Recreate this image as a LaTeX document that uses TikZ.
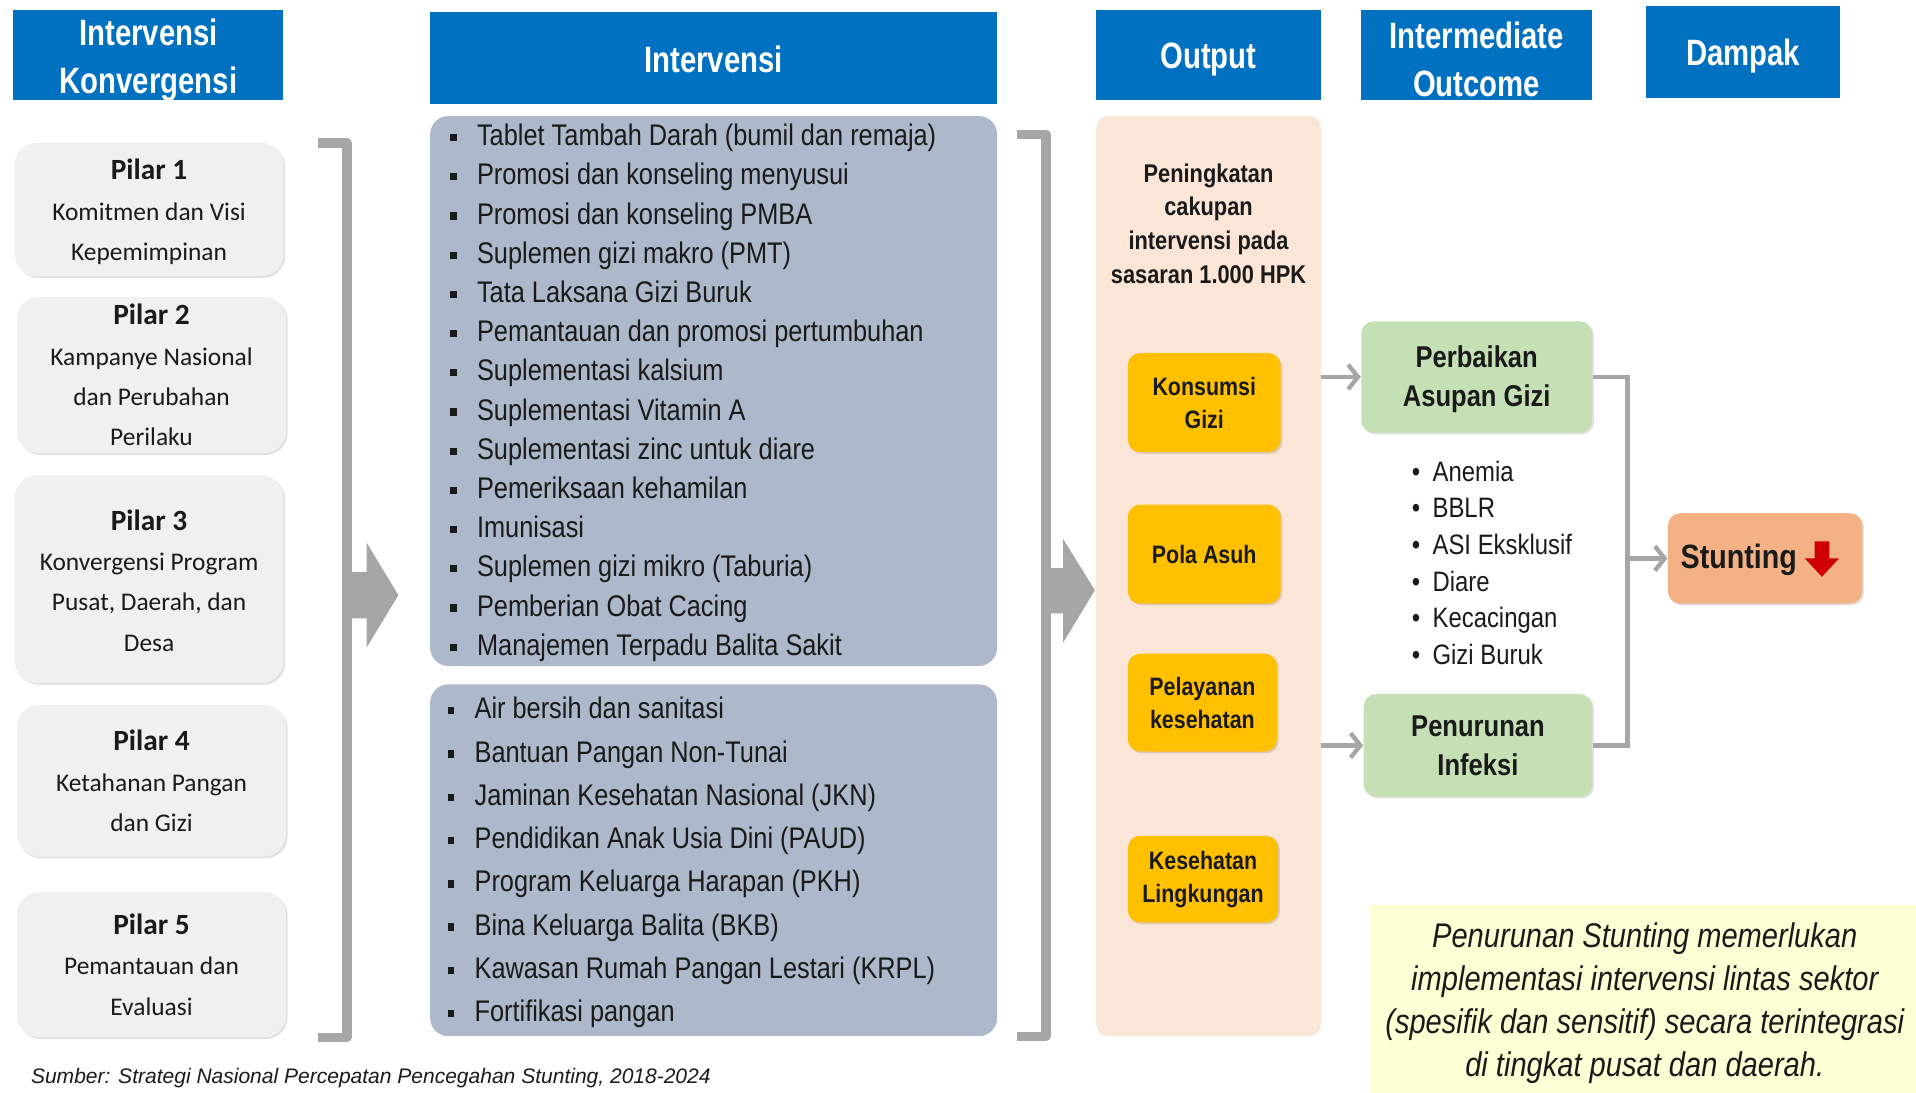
\documentclass[tikz,border=0pt]{standalone}
\usepackage{fontspec}
\setmainfont{Liberation Sans}
\newfontfamily\narfont[FakeStretch=0.85]{Liberation Sans}
\newfontfamily\hdrfont[FakeStretch=0.8]{Liberation Sans}
\newfontfamily\calfont{Carlito}
\usetikzlibrary{fit,arrows.meta,shadows}
\definecolor{hdr}{HTML}{0070C0}
\definecolor{pgray}{HTML}{F0F0F0}
\definecolor{lblue}{HTML}{ADB9CA}
\definecolor{peach}{HTML}{FBE5D6}
\definecolor{yel}{HTML}{FFC000}
\definecolor{grn}{HTML}{C5E0B4}
\definecolor{stuntc}{HTML}{F4B183}
\definecolor{notey}{HTML}{FFFFD5}
\definecolor{agray}{HTML}{A6A6A6}
\definecolor{redarr}{HTML}{D00000}
\definecolor{txt}{HTML}{1A1A1A}
\newcommand\sqb{\makebox[11pt][l]{\rule[1.8pt]{2.6pt}{3.0pt}}}
\newcommand\rdb{\makebox[8.5pt][l]{\textbullet}}
\begin{document}
\begin{tikzpicture}[x=0.5pt,y=-0.5pt,
  every node/.style={text=txt},
  soft/.style={drop shadow={shadow xshift=0.7pt, shadow yshift=-0.7pt, opacity=0.12, fill=black}},
  hdrbox/.style={fill=hdr, inner sep=0},
  hdrtxt/.style={inner sep=0, text=white, align=center, font={\hdrfont\bfseries\fontsize{15}{19.5}\selectfont}},
  pilar/.style={fill=pgray, rounded corners=9pt, inner sep=0, soft},
  pilartxt/.style={inner sep=0, align=center, font={\calfont\fontsize{10.4}{16.5}\selectfont}},
  listbox/.style={fill=lblue, rounded corners=7.5pt, inner sep=0},
  item/.style={inner sep=0, anchor=west, text height=8.6pt, text depth=2.4pt, font={\narfont\fontsize{12.2}{14}\selectfont}},
  ybox/.style={fill=yel, rounded corners=5pt, inner sep=0, soft},
  ytxt/.style={inner sep=0, align=center, font={\narfont\bfseries\fontsize{10.3}{13.5}\selectfont}},
  gbox/.style={fill=grn, rounded corners=5pt, inner sep=0, soft},
  gtxt/.style={inner sep=0, align=center, font={\narfont\bfseries\fontsize{12.3}{16}\selectfont}},
  bul/.style={inner sep=0, anchor=west, text height=8pt, text depth=2.2pt, font={\narfont\fontsize{11.5}{14}\selectfont}},
  arr/.style={draw=agray, line width=1.8pt, -{Straight Barb[length=4pt,width=10pt]}},
  conn/.style={draw=agray, line width=1.8pt},
  brk/.style={draw=agray, line width=3.8pt, line join=round}
]
\useasboundingbox (0,0) rectangle (1568,894);
\clip (0,0) rectangle (1568,894);

% headers
\node[hdrbox, fit={(11,8)(232,82)}] (h1box) {};
\node[hdrtxt] (h1) at ([yshift=-2.2pt]h1box.center) {Intervensi\\Konvergensi};
\node[hdrbox, fit={(352,10)(816,85)}] (h2box) {};
\node[hdrtxt] (h2) at ([yshift=-0.5pt]h2box.center) {Intervensi};
\node[hdrbox, fit={(897,8)(1081,82)}] (h3box) {};
\node[hdrtxt] (h3) at ([yshift=-2pt]h3box.center) {Output};
\node[hdrbox, fit={(1114,8)(1303,82)}] (h4box) {};
\node[hdrtxt] (h4) at ([yshift=-1.8pt]h4box.center) {Intermediate\\Outcome};
\node[hdrbox, fit={(1347,5)(1506,80)}] (h5box) {};
\node[hdrtxt] (h5) at ([yshift=-1.8pt]h5box.center) {Dampak};

% pilar boxes
\node[pilar, fit={(12,117)(232,226)}] (p1box) {};
\node[pilartxt] (p1) at ([yshift=-1pt]p1box.center) {{\bfseries\fontsize{12}{16.5}\selectfont Pilar 1}\\Komitmen dan Visi\\Kepemimpinan};
\node[pilar, fit={(14,243)(234,371)}] (p2box) {};
\node[pilartxt] (p2) at (p2box.center) {{\bfseries\fontsize{12}{16.5}\selectfont Pilar 2}\\Kampanye Nasional\\dan Perubahan\\Perilaku};
\node[pilar, fit={(12,389)(232,559)}] (p3box) {};
\node[pilartxt] (p3) at ([yshift=-0.5pt]p3box.center) {{\bfseries\fontsize{12}{16.5}\selectfont Pilar 3}\\Konvergensi Program\\Pusat, Daerah, dan\\Desa};
\node[pilar, fit={(14,577)(234,701)}] (p4box) {};
\node[pilartxt] (p4) at (p4box.center) {{\bfseries\fontsize{12}{16.5}\selectfont Pilar 4}\\Ketahanan Pangan\\dan Gizi};
\node[pilar, fit={(14,730)(234,849)}] (p5box) {};
\node[pilartxt] (p5) at (p5box.center) {{\bfseries\fontsize{12}{16.5}\selectfont Pilar 5}\\Pemantauan dan\\Evaluasi};

% brackets and chevrons
\draw[brk] (260,117) -- (284,117) -- (284,849) -- (260,849);
\fill[agray] (284,468) -- (300,468) -- (300,444) -- (326,487) -- (300,530) -- (300,506) -- (284,506) -- cycle;
\draw[brk] (832,110) -- (856,110) -- (856,848) -- (832,848);
\fill[agray] (856,465) -- (870,465) -- (870,441) -- (896,483) -- (870,526) -- (870,502) -- (856,502) -- cycle;

% intervention lists
\node[listbox, fit={(352,95)(816,545)}] (spes) {};
\node[listbox, fit={(352,560)(816,848)}] (sens) {};
\foreach \t [count=\i from 0] in {Tablet Tambah Darah (bumil dan remaja), Promosi dan konseling menyusui, Promosi dan konseling PMBA, Suplemen gizi makro (PMT), Tata Laksana Gizi Buruk, Pemantauan dan promosi pertumbuhan, Suplementasi kalsium, Suplementasi Vitamin A, Suplementasi zinc untuk diare, Pemeriksaan kehamilan, Imunisasi, Suplemen gizi mikro (Taburia), Pemberian Obat Cacing, Manajemen Terpadu Balita Sakit}
  \node[item] (sp\i) at (368,{113+32.08*\i}) {\sqb\t};
\foreach \t [count=\i from 0] in {Air bersih dan sanitasi, Bantuan Pangan Non-Tunai, Jaminan Kesehatan Nasional (JKN), Pendidikan Anak Usia Dini (PAUD), Program Keluarga Harapan (PKH), Bina Keluarga Balita (BKB), Kawasan Rumah Pangan Lestari (KRPL), Fortifikasi pangan}
  \node[item] (se\i) at (366,{582+35.43*\i}) {\sqb\t};

% output column
\node[fill=peach, rounded corners=5pt, inner sep=0, fit={(897,95)(1081,848)}] (outbox) {};
\node[inner sep=0, align=center, font={\narfont\bfseries\fontsize{10.5}{13.75}\selectfont}] (outtxt) at (989,183) {Peningkatan\\cakupan\\intervensi pada\\sasaran 1.000 HPK};
\node[ybox, fit={(923,289)(1048,370)}] (konsbox) {};
\node[ytxt] (kons) at (konsbox.center) {Konsumsi\\Gizi};
\node[ybox, fit={(923,413)(1048,494)}] (polabox) {};
\node[ytxt] (pola) at (polabox.center) {Pola Asuh};
\node[ybox, fit={(923,535)(1045,615)}] (pelbox) {};
\node[ytxt] (pel) at (pelbox.center) {Pelayanan\\kesehatan};
\node[ybox, fit={(923,684)(1046,755)}] (kesbox) {};
\node[ytxt] (kes) at (kesbox.center) {Kesehatan\\Lingkungan};

% intermediate outcome
\node[gbox, fit={(1114,263)(1303,354)}] (perb) {};
\node[gtxt] (perbtxt) at ([yshift=-0.8pt]perb.center) {Perbaikan\\Asupan Gizi};
\node[gbox, fit={(1116,568)(1303,652)}] (pen) {};
\node[gtxt] (pentxt) at (pen.center) {Penurunan\\Infeksi};
\foreach \t [count=\i from 0] in {Anemia, BBLR, ASI Eksklusif, Diare, Kecacingan, Gizi Buruk}
  \node[bul] (b\i) at (1155,{388+30*\i}) {\rdb\t};

% impact
\node[fill=stuntc, rounded corners=5pt, inner sep=0, soft, fit={(1365,420)(1524,494)}] (stunt) {};
\node[inner sep=0, font={\narfont\bfseries\fontsize{13.8}{16}\selectfont}] (stxt) at (1423,458) {Stunting};
\fill[redarr] (1485,443) -- (1497,443) -- (1497,457) -- (1505,457) -- (1491,472) -- (1477,457) -- (1485,457) -- cycle;

% connectors
\draw[arr] (outbox.east |- perb.west) -- (perb.west);
\draw[arr] (outbox.east |- pen.west) -- (pen.west);
\coordinate (j) at (1332,458);
\draw[conn] (perb.east) -| (j) |- (pen.east);
\draw[arr] (j |- stunt.west) -- (stunt.west);

% note
\node[fill=notey, inner sep=0, fit={(1121,741)(1580,905)}] (note) {};
\node[inner sep=0, align=center, font={\narfont\itshape\fontsize{14}{17.5}\selectfont}] (notetxt) at (1346,821) {Penurunan Stunting memerlukan\\implementasi intervensi lintas sektor\\(spesifik dan sensitif) secara terintegrasi\\di tingkat pusat dan daerah.};

% source
\node[anchor=base west, inner sep=0, font={\itshape\fontsize{8.6}{10}\selectfont}] (src) at (25,887) {Sumber: Strategi Nasional Percepatan Pencegahan Stunting, 2018-2024};
\end{tikzpicture}
\end{document}
